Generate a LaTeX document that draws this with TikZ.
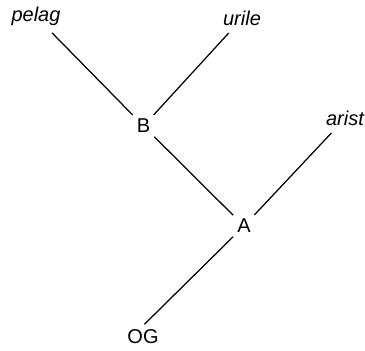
\documentclass[tikz,border=0pt]{standalone}
\usepackage{fontspec}
\setmainfont{Liberation Sans}
\begin{document}
\begin{tikzpicture}[x=1bp,y=-1bp,
  every node/.style={font=\fontsize{20bp}{24bp}\selectfont, inner sep=4bp},
  leaf/.style={font=\fontsize{20bp}{24bp}\selectfont\itshape, inner sep=4bp},
  inner/.style={},
  branch/.style={line width=1.25bp, black},
  fromleaf/.style={branch, shorten <=4bp}]
\useasboundingbox (0,0) rectangle (365,351);
\node[leaf] (pelag) at (36,16.5) {pelag};
\node[leaf] (urile) at (242,18.5) {urile};
\node[leaf] (arist) at (345,118.5) {arist};
\node[inner] (B) at (143.5,126) {B};
\node[inner] (A) at (244,226) {A};
\node[inner] (OG) at (143,337) {OG};
\draw[fromleaf] (pelag) -- (B);
\draw[fromleaf] (urile) -- (B);
\draw[branch] (B) -- (A);
\draw[fromleaf] (arist) -- (A);
\draw[branch, shorten >=2bp] (A) -- (OG.north);
\end{tikzpicture}
\end{document}
